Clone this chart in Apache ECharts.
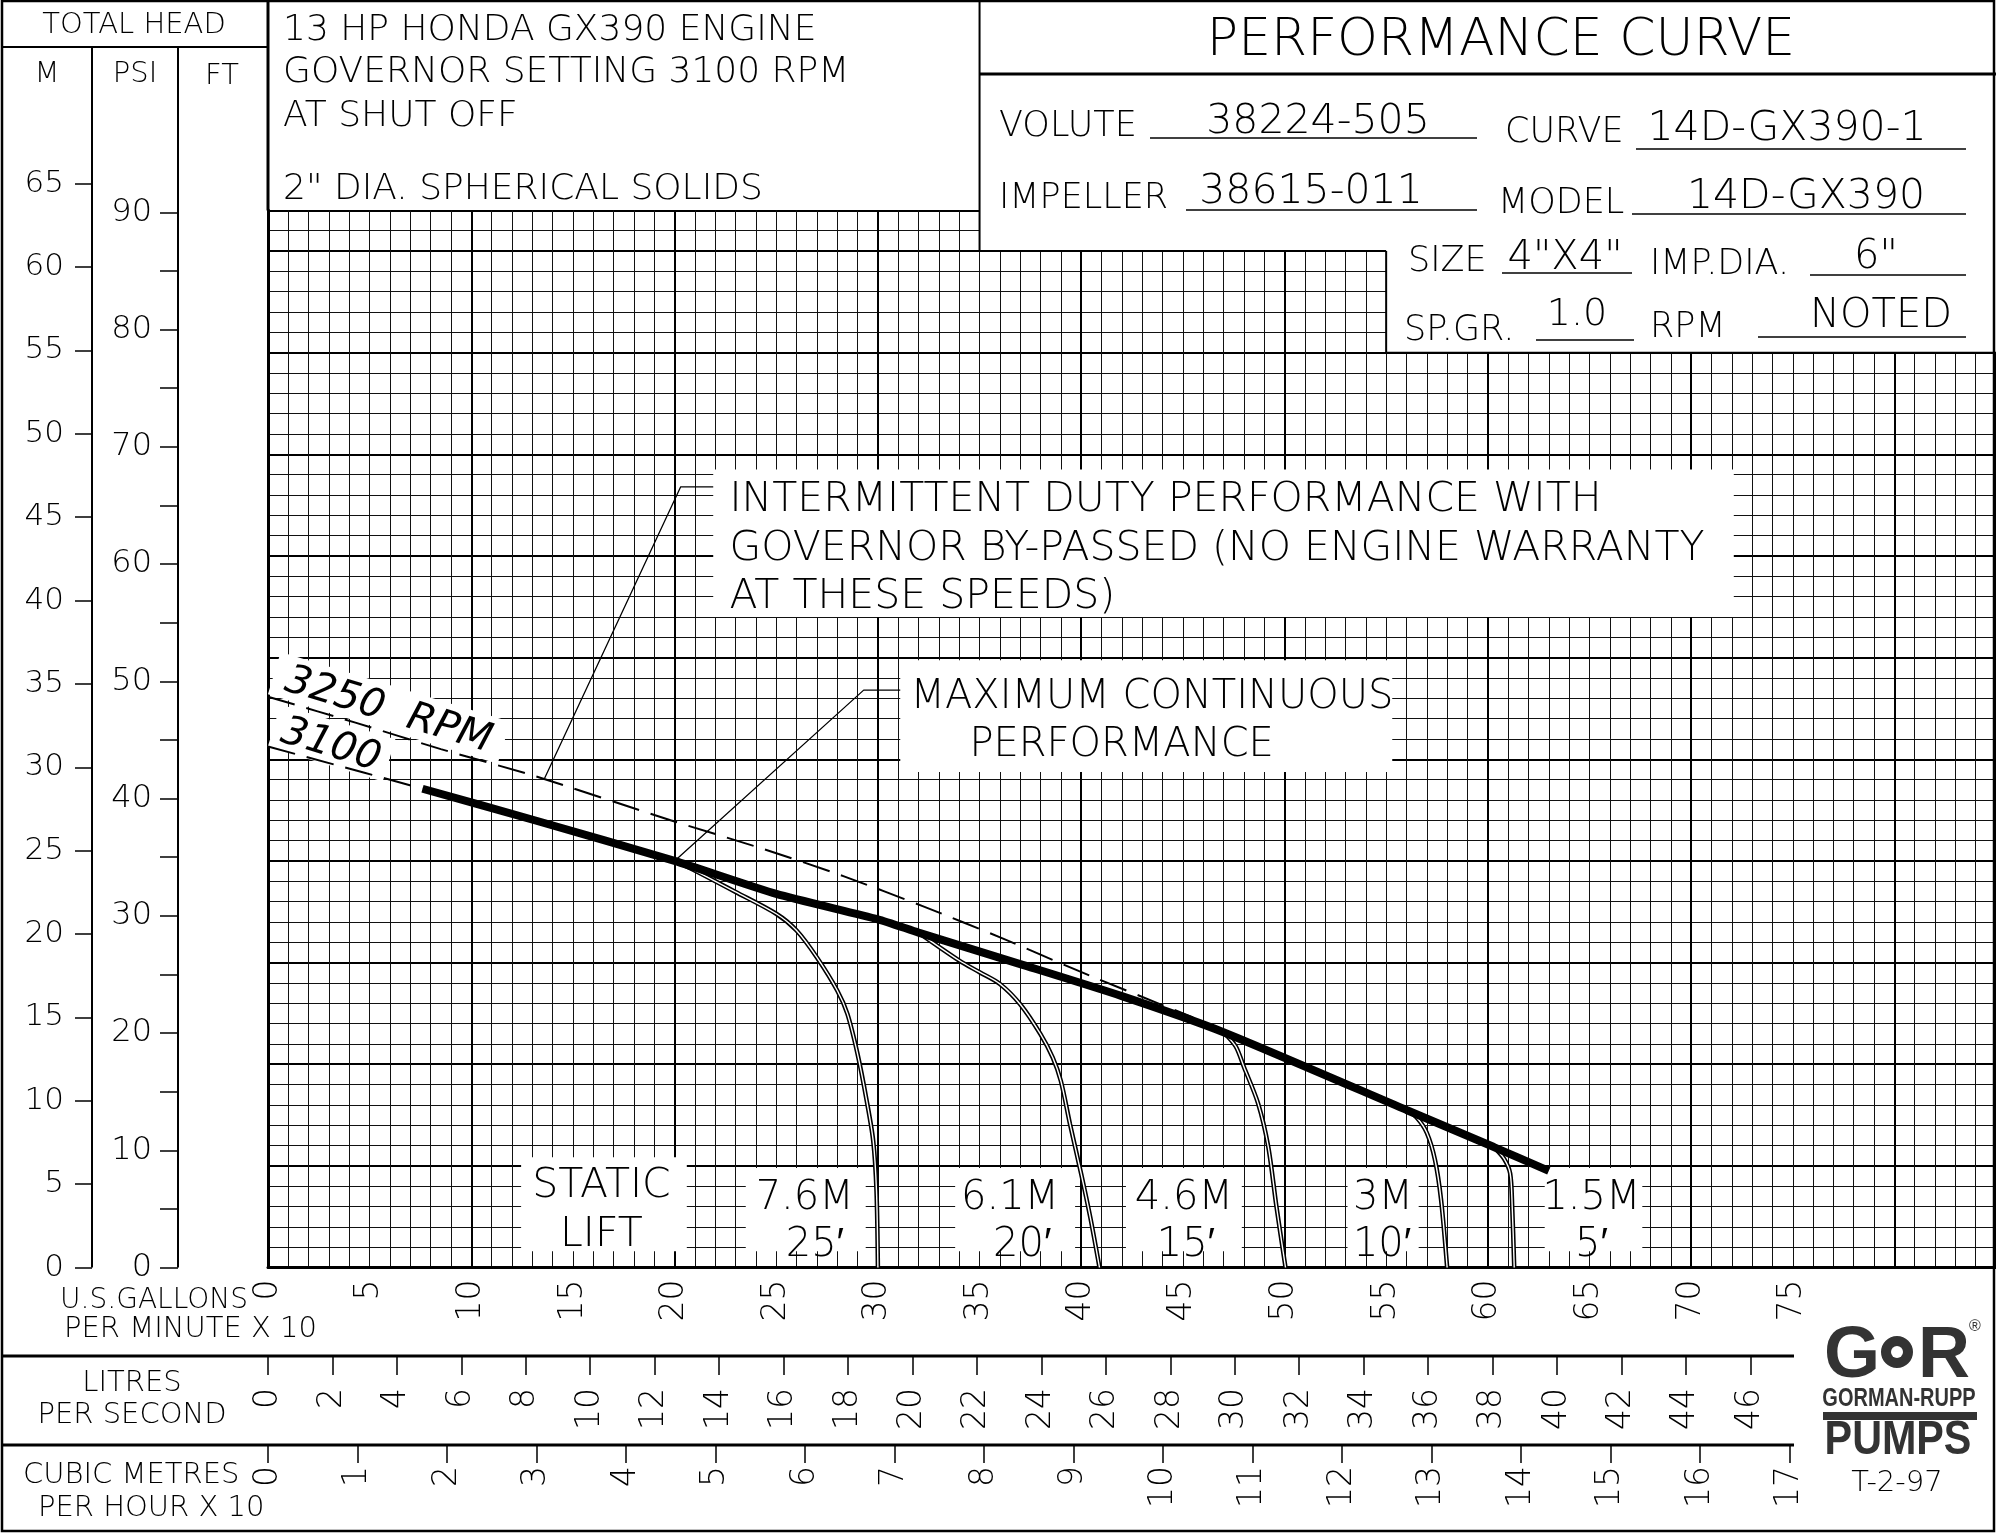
<!DOCTYPE html>
<html>
<head>
<meta charset="utf-8">
<title>14D-GX390 performance curve</title>
<script src="https://cdn.jsdelivr.net/npm/echarts@6/dist/echarts.min.js"></script>
<style>
  html, body { margin: 0; padding: 0; background: #fff; }
  #chart { width: 1996px; height: 1534px; }
</style>
</head>
<body>
<div id="chart"></div>
<script>
// x = U.S. gallons per minute x 10, y = total head in feet
var maxContinuous3100 = [[7.6,94.2],[13.2,87.9],[20,80.0],[25,73.5],[30,68.5],[32,65.9],[37,59.7],[42,53.4],[47,46.3],[56,31.0],[60.3,23.7],[63,19.0]];
var shutoff3100 = [[0,102.5],[4.7,97.4],[7.6,94.2]];
var intermittent3250 = [[0,112.3],[4.3,107.2],[8.5,102.0],[13.2,96.6],[19.8,88.0],[24.4,82.3],[28.3,77.0],[32.2,71.1],[36.1,64.8],[39.9,58.3],[45.5,49.2]];
var lift25ft = [[20,80],[20.75,78.6],[23,73.9],[25,69.6],[26,66.3],[27,61.0],[28,54.5],[28.5,49.9],[29,42],[29.45,32.8],[29.77,24.9],[29.93,15.1],[30,0]];
var lift20ft = [[32,65.9],[34,60.4],[35,58.1],[36,55.8],[37,51.8],[38,45.9],[38.6,41.3],[39,36.7],[39.45,28.2],[40,18.4],[40.45,9.8],[40.9,0]];
var lift15ft = [[47,46.3],[47.6,43.5],[48,39.5],[48.7,32.3],[49.2,23.8],[49.6,12.1],[50.05,0]];
var lift10ft = [[56,31.0],[56.5,29.5],[57,26.5],[57.4,21.2],[57.7,13.4],[58,0]];
var lift5ft = [[60.3,23.7],[60.8,21.4],[61.1,18.5],[61.2,12],[61.3,0]];
var leaderIntermittent = [[21.9,153.6],[20.3,153.6],[13.6,96.2]];
var leaderContinuous = [[31.1,113.6],[29.3,113.6],[20,80]];

// scale ranges and tick labels
var gpmMax = 85, ftMax = 208;
var gpmLabelMax = 75, ftLabelStep = 20;
var mMax = 65, psiMax = 90, lpsMax = 46, m3hMax = 17;

// unit conversions
var FT_PER_M = 3.28084, FT_PER_PSI = 2.30666;
var LPS_PER_UNIT = 0.630902, M3H10_PER_UNIT = 0.227125;

// sheet layout (pixels)
var UNIT_PX = 20.33, FT_PX = UNIT_PX / 4;
var X0 = 268, Y0 = 1267.5, LPS_Y = 1356, M3H_Y = 1445;
var FONT = '"DejaVu Sans", "Liberation Sans", sans-serif';
var W = 200;

var chart = echarts.init(document.getElementById('chart'));

function hidden(idx) { return { gridIndex: idx, show: false, type: 'value' }; }
function lbl(size, extra) {
  return Object.assign({ color: '#000', fontSize: size, fontFamily: FONT, fontWeight: W }, extra || {});
}
var thin = { color: '#111', width: 1 };
var bold = { color: '#000', width: 2 };

var option = {
  animation: false,
  backgroundColor: '#fff',
  grid: [
    { left: X0, top: Y0 - ftMax * FT_PX, width: gpmMax * UNIT_PX, height: ftMax * FT_PX, outerBoundsMode: 'none' },
    { left: 92, width: 1, top: Y0 - mMax * FT_PER_M * FT_PX, height: mMax * FT_PER_M * FT_PX, outerBoundsMode: 'none' },
    { left: 178, width: 1, top: Y0 - psiMax * FT_PER_PSI * FT_PX, height: psiMax * FT_PER_PSI * FT_PX, outerBoundsMode: 'none' },
    { left: X0, top: LPS_Y - 1, height: 1, width: lpsMax / LPS_PER_UNIT * UNIT_PX, outerBoundsMode: 'none' },
    { left: X0, top: M3H_Y - 1, height: 1, width: m3hMax / M3H10_PER_UNIT * UNIT_PX, outerBoundsMode: 'none' }
  ],
  xAxis: [
    { gridIndex: 0, type: 'value', min: 0, max: gpmMax, interval: 1,
      axisLine: { lineStyle: { color: '#000', width: 3 } }, axisTick: { show: false }, axisLabel: { show: false },
      splitLine: { lineStyle: thin } },
    { gridIndex: 0, type: 'value', min: 0, max: gpmMax, interval: 10,
      axisLine: { show: false }, axisTick: { show: false }, axisLabel: { show: false },
      splitLine: { lineStyle: bold } },
    { gridIndex: 0, type: 'value', min: 0, max: gpmMax, interval: 5, position: 'bottom',
      axisLine: { show: false }, axisTick: { show: false }, splitLine: { show: false },
      axisLabel: lbl(33, { rotate: 90, margin: 12, formatter: function (v) { return v <= gpmLabelMax ? String(v) : ''; } }) },
    { gridIndex: 3, type: 'value', min: 0, max: lpsMax, interval: 2, position: 'bottom',
      axisLine: { show: false }, splitLine: { show: false },
      axisTick: { length: 19, lineStyle: { color: '#000', width: 1.5 } },
      axisLabel: lbl(33, { rotate: 90, margin: 32 }) },
    { gridIndex: 4, type: 'value', min: 0, max: m3hMax, interval: 1, position: 'bottom',
      axisLine: { show: false }, splitLine: { show: false },
      axisTick: { length: 18, lineStyle: { color: '#000', width: 1.5 } },
      axisLabel: lbl(33, { rotate: 90, margin: 21 }) },
    hidden(1), hidden(2)
  ],
  yAxis: [
    { gridIndex: 0, type: 'value', min: 0, max: ftMax, interval: 4,
      axisLine: { show: true, lineStyle: { color: '#000', width: 3 } }, axisTick: { show: false }, axisLabel: { show: false },
      splitLine: { lineStyle: thin } },
    { gridIndex: 0, type: 'value', min: 0, max: ftMax, interval: ftLabelStep,
      axisLine: { show: false }, axisTick: { show: false }, splitLine: { lineStyle: bold },
      axisLabel: lbl(33, { margin: 11, formatter: function (v) { return v % ftLabelStep === 0 ? String(v) : ''; } }) },
    { gridIndex: 1, type: 'value', min: 0, max: mMax, interval: 5,
      axisLine: { show: false }, splitLine: { show: false },
      axisTick: { length: 17, lineStyle: { color: '#000', width: 1.5 } },
      axisLabel: lbl(31, { margin: 28 }) },
    { gridIndex: 2, type: 'value', min: 0, max: psiMax, interval: 5,
      axisLine: { show: false }, splitLine: { show: false },
      axisTick: { length: 18, lineStyle: { color: '#000', width: 1.5 } },
      axisLabel: lbl(32, { margin: 26, formatter: function (v) { return v % 10 === 0 ? String(v) : ''; } }) },
    hidden(3), hidden(4)
  ],
  series: []
};

function line(data, style, extra) {
  return Object.assign({ type: 'line', xAxisIndex: 0, yAxisIndex: 0, data: data, symbol: 'none',
    silent: true, lineStyle: style }, extra || {});
}
option.series.push(line(intermittent3250, { color: '#000', width: 2, type: [28, 12] }, { z: 3, smooth: 0.3 }));
option.series.push(line(shutoff3100, { color: '#000', width: 2, type: [28, 12] }, { z: 3 }));
[lift25ft, lift20ft, lift15ft, lift10ft, lift5ft].forEach(function (d) {
  option.series.push(line(d, { color: '#000', width: 4.5 }, { z: 3, smooth: 0.3 }));
  option.series.push(line(d, { color: '#fff', width: 1.4 }, { z: 4, smooth: 0.3 }));
});
option.series.push(line(maxContinuous3100, { color: '#000', width: 8, cap: 'butt' }, { z: 6, smooth: 0.2 }));
option.series.push(line(leaderIntermittent, { color: '#000', width: 1.3 }, { z: 6 }));
option.series.push(line(leaderContinuous, { color: '#000', width: 1.3 }, { z: 6 }));

chart.setOption(option);

// ---------- sheet furniture, positioned through the chart's own scales ----------
function P(x, ft) { return chart.convertToPixel({ xAxisIndex: 0, yAxisIndex: 0 }, [x, ft]); }
function txt(s, x, y, size, align, extra) {
  return Object.assign({ type: 'text', z: 12, silent: true,
    style: { text: s, x: x, y: y + size * 0.1, fill: '#000', font: W + ' ' + size + 'px ' + FONT,
      textAlign: align || 'left', textVerticalAlign: 'middle' } }, extra || {});
}
function seg(x1, y1, x2, y2, w) {
  return { type: 'line', z: 11, silent: true, shape: { x1: x1, y1: y1, x2: x2, y2: y2 },
    style: { stroke: '#000', lineWidth: w || 2 } };
}
function whiteBox(x0, f0, x1, f1) {
  var a = P(x0, f1), b = P(x1, f0);
  return { type: 'rect', z: 1, silent: true, shape: { x: a[0], y: a[1], width: b[0] - a[0], height: b[1] - a[1] },
    style: { fill: '#fff' } };
}

var g = [];
var xa = P(35, 0)[0], xb = P(55, 0)[0], y200 = P(0, 200)[1], y180 = P(0, 180)[1], gridTop = P(0, ftMax)[1];

// header mask over the grid
g.push({ type: 'polygon', z: 1, silent: true,
  shape: { points: [[xa, 0], [1996, 0], [1996, y180], [xb, y180], [xb, y200], [xa, y200]] }, style: { fill: '#fff' } });

// frame lines
g.push({ type: 'rect', z: 11, silent: true, shape: { x: 2, y: 1, width: 1992, height: 1530 },
  style: { fill: null, stroke: '#000', lineWidth: 2.5 } });
g.push(seg(2, 47, X0, 47));
g.push(seg(92, 47, 92, Y0));
g.push(seg(178, 47, 178, Y0));
g.push(seg(X0, 0, X0, gridTop, 3));
g.push(seg(xa, 0, xa, y200));
g.push(seg(xa, 74, 1996, 74, 3));
g.push(seg(xa, y200, xb, y200));
g.push(seg(xb, y200, xb, y180));
g.push(seg(xb, y180, 1996, y180));
g.push(seg(2, LPS_Y, 1794, LPS_Y, 3));
g.push(seg(2, M3H_Y, 1794, M3H_Y, 3));

// left header
g.push(txt('TOTAL HEAD', 134, 23, 29, 'center'));
g.push(txt('M', 47, 72, 29, 'center'));
g.push(txt('PSI', 135, 72, 29, 'center'));
g.push(txt('FT', 222, 74, 29, 'center'));
g.push(txt('13 HP HONDA GX390 ENGINE', 283, 27, 36));
g.push(txt('GOVERNOR SETTING 3100 RPM', 283, 69, 36));
g.push(txt('AT SHUT OFF', 283, 113, 36));
g.push(txt('2" DIA. SPHERICAL SOLIDS', 283, 186, 36));

// right header
g.push(txt('PERFORMANCE CURVE', 1501, 36, 52, 'center'));
var fields = [
  // label, lx, ly, value, vx, vy, u1, u2, uy, value size
  ['VOLUTE', 999, 123, '38224-505', 1318, 118, 1150, 1477, 138, 41],
  ['CURVE', 1505, 129, '14D-GX390-1', 1787, 125, 1636, 1966, 149, 41],
  ['IMPELLER', 999, 195, '38615-011', 1311, 188, 1186, 1477, 210, 41],
  ['MODEL', 1498, 200, '14D-GX390', 1806, 193, 1632, 1966, 214, 41],
  ['SIZE', 1408, 258, '4"X4"', 1565, 255, 1502, 1632, 273, 40],
  ['IMP.DIA.', 1650, 261, '6"', 1876, 254, 1810, 1966, 275, 40],
  ['SP.GR.', 1404, 327, '1.0', 1577, 311, 1536, 1634, 340, 38],
  ['RPM', 1650, 324, 'NOTED', 1881, 313, 1758, 1966, 337, 40]
];
fields.forEach(function (f) {
  g.push(txt(f[0], f[1], f[2], 35));
  g.push(txt(f[3], f[4], f[5], f[9], 'center'));
  g.push(seg(f[6], f[8], f[7], f[8], 1.5));
});

// bottom-left captions
g.push(txt('U.S.GALLONS', 248, 1298, 28, 'right'));
g.push(txt('PER MINUTE X 10', 64, 1327, 29));
g.push(txt('LITRES', 132, 1381, 29, 'center'));
g.push(txt('PER SECOND', 132, 1413, 29, 'center'));
g.push(txt('CUBIC METRES', 23, 1473, 29));
g.push(txt('PER HOUR X 10', 38, 1506, 29));

// notes on the grid
g.push(whiteBox(21.9, 128, 72.1, 157));
g.push(txt('INTERMITTENT DUTY PERFORMANCE WITH', P(22.7, 0)[0], P(0, 151.8)[1], 41));
g.push(txt('GOVERNOR BY-PASSED (NO ENGINE WARRANTY', P(22.7, 0)[0], P(0, 142.2)[1], 41));
g.push(txt('AT THESE SPEEDS)', P(22.7, 0)[0], P(0, 132.7)[1], 41));

g.push(whiteBox(31.1, 97.5, 55.3, 119.5));
g.push(txt('MAXIMUM CONTINUOUS', P(31.6, 0)[0], P(0, 113)[1], 40));
g.push(txt('PERFORMANCE', P(34.5, 0)[0], P(0, 103.4)[1], 40));

g.push(whiteBox(12.45, 3.2, 20.6, 21.7));
g.push(txt('STATIC', P(16.4, 0)[0], P(0, 16.8)[1], 41, 'center'));
g.push(txt('LIFT', P(16.4, 0)[0], P(0, 7.2)[1], 41, 'center'));

var liftLabels = [
  // box x0, x1, metres label x, feet label x, metres, feet
  [23.5, 29.4, 26.4, 26.9, '7.6M', '25\u2032'],
  [33.8, 39.7, 36.5, 37.1, '6.1M', '20\u2032'],
  [42.2, 47.9, 45.05, 45.15, '4.6M', '15\u2032'],
  [53.1, 56.6, 54.85, 54.8, '3M', '10\u2032'],
  [62.8, 67.6, 65.1, 65.1, '1.5M', '5\u2032']
];
liftLabels.forEach(function (l) {
  g.push(whiteBox(l[0], 3.2, l[1], 19.6));
  g.push(txt(l[4], P(l[2], 0)[0], P(0, 14.4)[1], 40, 'center'));
  g.push(txt(l[5], P(l[3], 0)[0], P(0, 5.0)[1], 40, 'center'));
});

// speed labels laid along the dashed curves
var pA = P(0, 112.3), pB = P(8.5, 102.0);
var ang = -Math.atan2(pB[1] - pA[1], pB[0] - pA[0]);
function slanted(s, x, ft, w) {
  var c = P(x, ft);
  return { type: 'group', x: c[0], y: c[1], rotation: ang, z: 1, silent: true, children: [
    { type: 'rect', z: 1, shape: { x: -w / 2, y: -22, width: w, height: 44 }, style: { fill: '#fff' } },
    { type: 'text', z: 2, style: { text: s, x: 0, y: 3, fill: '#000', font: 'italic ' + W + ' 40px ' + FONT,
      textAlign: 'center', textVerticalAlign: 'middle' } }
  ] };
}
g.push(slanted('3250  RPM', 5.96, 110.1, 240));
g.push(slanted('3100', 3.13, 103.2, 120));

// maker's mark
g.push({ type: 'text', z: 12, silent: true, style: { text: 'G', x: 1852, y: 1357, fill: '#333',
  font: 'bold 72px "Liberation Sans", sans-serif', textAlign: 'center', textVerticalAlign: 'middle' } });
g.push({ type: 'text', z: 12, silent: true, style: { text: 'R', x: 1944, y: 1357, fill: '#333',
  font: 'bold 72px "Liberation Sans", sans-serif', textAlign: 'center', textVerticalAlign: 'middle' } });
g.push({ type: 'circle', z: 13, silent: true, shape: { cx: 1897, cy: 1352, r: 17 }, style: { fill: '#333', stroke: '#fff', lineWidth: 2 } });
g.push({ type: 'circle', z: 14, silent: true, shape: { cx: 1897, cy: 1352, r: 6 }, style: { fill: '#fff' } });
g.push({ type: 'text', z: 12, silent: true, style: { text: '\u00AE', x: 1975, y: 1327, fill: '#333',
  font: '16px "Liberation Sans", sans-serif', textAlign: 'center', textVerticalAlign: 'middle' } });
g.push({ type: 'text', z: 12, silent: true, scaleX: 0.8, x: 1899, y: 1399, style: { text: 'GORMAN-RUPP', x: 0, y: 0, fill: '#333',
  font: 'bold 25px "Liberation Sans", sans-serif', textAlign: 'center', textVerticalAlign: 'middle' } });
g.push({ type: 'rect', z: 12, silent: true, shape: { x: 1823, y: 1412, width: 154, height: 8 }, style: { fill: '#333' } });
g.push({ type: 'text', z: 12, silent: true, scaleX: 0.86, x: 1898, y: 1441, style: { text: 'PUMPS', x: 0, y: 0, fill: '#333',
  font: 'bold 48px "Liberation Sans", sans-serif', textAlign: 'center', textVerticalAlign: 'middle' } });
g.push(txt('T-2-97', 1897, 1481, 29, 'center'));

chart.setOption({ graphic: { elements: g } });
</script>
</body>
</html>
